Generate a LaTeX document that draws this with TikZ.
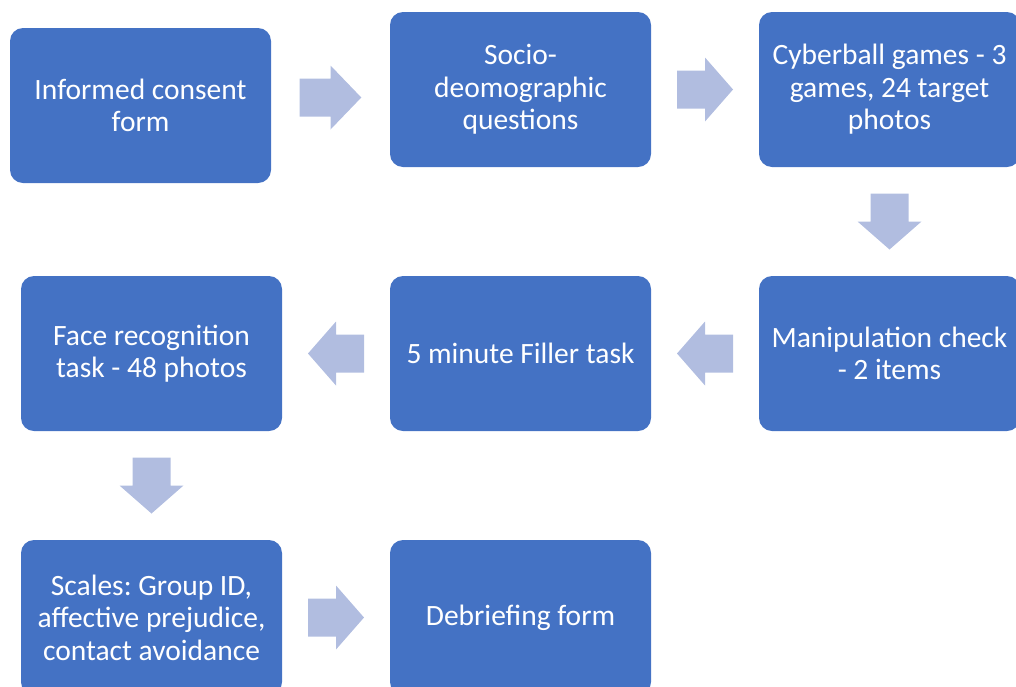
\documentclass[tikz,border=0pt]{standalone}
\usepackage{fontspec}
\setmainfont{Carlito}
\frenchspacing
\usetikzlibrary{calc}
\definecolor{boxblue}{HTML}{4472C4}
\definecolor{arrowblue}{HTML}{B1BDE0}
\tikzset{
  stage/.style={fill=boxblue, rounded corners=13pt, minimum width=261pt, minimum height=155pt,
    inner sep=0pt, text=white, align=center, font=\fontsize{29.5}{32.5}\selectfont},
  pics/blockarrow/.style={code={
    \fill[arrowblue] (-28,-19) -- (0,-19) -- (0,-32) -- (28,0) -- (0,32) -- (0,19) -- (-28,19) -- cycle;
  }}
}

\begin{document}
\begin{tikzpicture}[x=1pt,y=-1pt]
  \useasboundingbox (0,0) rectangle (1016,686);
  \clip (0,0) rectangle (1016,686);

  % first row
  \node[stage] (consent) at (140.5,105.5) {Informed consent\\form};
  \node[stage] (socio) at (520.5,89.5) {Socio-\\deomographic\\questions};
  \node[stage] (cyber) at (889.5,89.5) {Cyberball games - 3\\games, 24 target\\photos};

  % second row
  \node[stage] (manip) at (889.5,353.5) {Manipulation check\\- 2 items};
  \node[stage] (filler) at (520.5,353.5) {5 minute Filler task};
  \node[stage] (face) at (151.5,353.5) {Face recognition\\task - 48 photos};

  % third row
  \node[stage] (scales) at (151.5,617.5) {Scales: Group ID,\\affective prejudice,\\contact avoidance};
  \node[stage] (debrief) at (520.5,617.5) {Debriefing form};

  % block arrows
  \pic[xscale=1.1] at ($(consent.east)!0.5!(socio.west)$) {blockarrow};
  \pic at ($(socio.east)!0.5!(cyber.west)$) {blockarrow};
  \pic[rotate=-90] at ($(cyber.south)!0.5!(manip.north)$) {blockarrow};
  \pic[rotate=180] at ($(manip.west)!0.5!(filler.east)$) {blockarrow};
  \pic[rotate=180] at ($(filler.west)!0.5!(face.east)$) {blockarrow};
  \pic[rotate=-90] at ($(face.south)!0.5!(scales.north)$) {blockarrow};
  \pic at ($(scales.east)!0.5!(debrief.west)$) {blockarrow};
\end{tikzpicture}
\end{document}
